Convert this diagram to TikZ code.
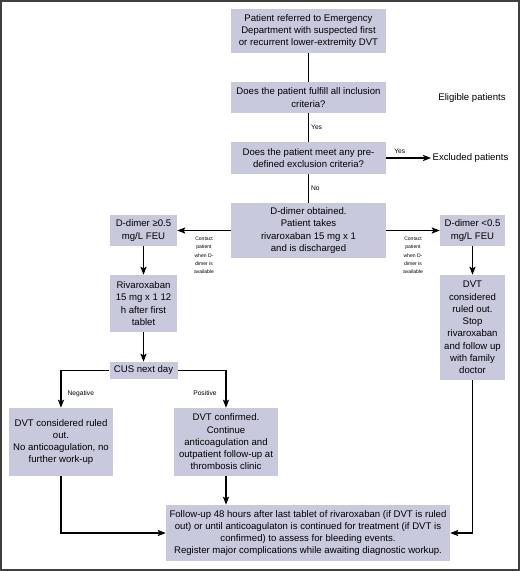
\documentclass[tikz,border=0pt]{standalone}
\usepackage{fontspec}
\setmainfont{Liberation Sans}
\usetikzlibrary{arrows.meta}
\definecolor{boxfill}{RGB}{201,201,221}

\begin{document}
\begin{tikzpicture}[x=0.75pt,y=-0.75pt,
    box/.style={fill=boxfill,align=center,inner sep=0pt,font=\fontsize{7.2}{9.2}\selectfont},
    plain/.style={align=center,inner sep=1pt,font=\fontsize{7.2}{9.2}\selectfont},
    note/.style={inner sep=1.5pt,font=\fontsize{5}{6}\selectfont},
    contact/.style={align=center,inner sep=0pt,font=\fontsize{3.8}{6.2}\selectfont},
    link/.style={line width=1pt},
    flow/.style={line width=1pt,-{Stealth[length=6pt,width=4.6pt,inset=1.2pt]}}]
    \useasboundingbox (0,0) rectangle (520,571);
    \draw[line width=1.5pt,black!75] (1,1) rectangle (519,570);
    % screening column
    \node[box,minimum width=116.25pt,minimum height=33pt] (start) at (308.5,31)
        {Patient referred to Emergency\\Department with suspected first\\or recurrent lower-extremity DVT};
    \node[box,minimum width=116.25pt,minimum height=23.25pt] (incl) at (308.5,97.5)
        {Does the patient fulfill all inclusion\\criteria?};
    \node[box,minimum width=116.25pt,minimum height=24pt] (excl) at (308.5,158)
        {Does the patient meet any pre-\\defined exclusion criteria?};
    \node[box,minimum width=116.25pt,minimum height=41.25pt] (ddimer) at (308.5,230.5)
        {D-dimer obtained.\\Patient takes\\rivaroxaban 15 mg x 1\\and is discharged};
    \node[plain] (eligible) at (472,98) {Eligible patients};
    \node[plain,anchor=west] (excluded) at (431,158) {Excluded patients};
    % D-dimer branches
    \node[box,minimum width=50.25pt,minimum height=23.25pt] (high) at (143.5,230.5)
        {D-dimer ≥0.5\\mg/L FEU};
    \node[box,minimum width=48.75pt,minimum height=23.25pt] (low) at (472.5,230.5)
        {D-dimer <0.5\\mg/L FEU};
    \node[box,minimum width=50.25pt,minimum height=42.75pt] (riva) at (143.5,303.5)
        {Rivaroxaban\\15 mg x 1 12\\h after first\\tablet};
    \node[box,minimum width=51pt,minimum height=12.75pt] (cus) at (143.5,370.5)
        {CUS next day};
    \node[box,minimum width=48.75pt,minimum height=78.75pt] (stop) at (472.5,327.5)
        {DVT\\considered\\ruled out.\\Stop\\rivaroxaban\\and follow up\\with family\\doctor};
    \node[box,minimum width=78pt,minimum height=51pt] (neg) at (61,442)
        {DVT considered ruled\\out.\\No anticoagulation, no\\further work-up};
    \node[box,minimum width=78pt,minimum height=51pt] (pos) at (226,442)
        {DVT confirmed.\\Continue\\anticoagulation and\\outpatient follow-up at\\thrombosis clinic};
    \node[box,minimum width=213pt,minimum height=42pt] (final) at (308,533)
        {Follow-up 48 hours after last tablet of rivaroxaban (if DVT is ruled\\out) or until anticoagulaton is continued for treatment (if DVT is\\confirmed) to assess for bleeding events.\\Register major complications while awaiting diagnostic workup.};
    % connectors
    \draw[link] (start.south) -- (incl.north);
    \draw[link] (incl.south) -- (excl.north) node[note,midway,right] {Yes};
    \draw[flow] (excl.east) -- (excluded.west) node[note,pos=.3,above=1pt] {Yes};
    \draw[link] (excl.south) -- (ddimer.north) node[note,midway,right] {No};
    \draw[flow] (ddimer.west) -- (high.east)
        node[contact,midway,below=4.5pt] {Contact\\patient\\when D-\\dimer is\\available};
    \draw[flow] (ddimer.east) -- (low.west)
        node[contact,midway,below=4.5pt] {Contact\\patient\\when D-\\dimer is\\available};
    \draw[flow] (high.south) -- (riva.north);
    \draw[flow] (riva.south) -- (cus.north);
    \draw[flow] (low.south) -- (stop.north);
    \draw[flow] (cus.west) -| (neg.north) node[note,pos=.81,right=3pt] {Negative};
    \draw[flow] (cus.east) -| (pos.north) node[note,pos=.81,left=5pt] {Positive};
    \draw[flow] (pos.south) -- (pos.south |- final.north);
    \draw[flow] (neg.south) |- (final.west);
    \draw[flow] (stop.south) |- (final.east);
\end{tikzpicture}
\end{document}
